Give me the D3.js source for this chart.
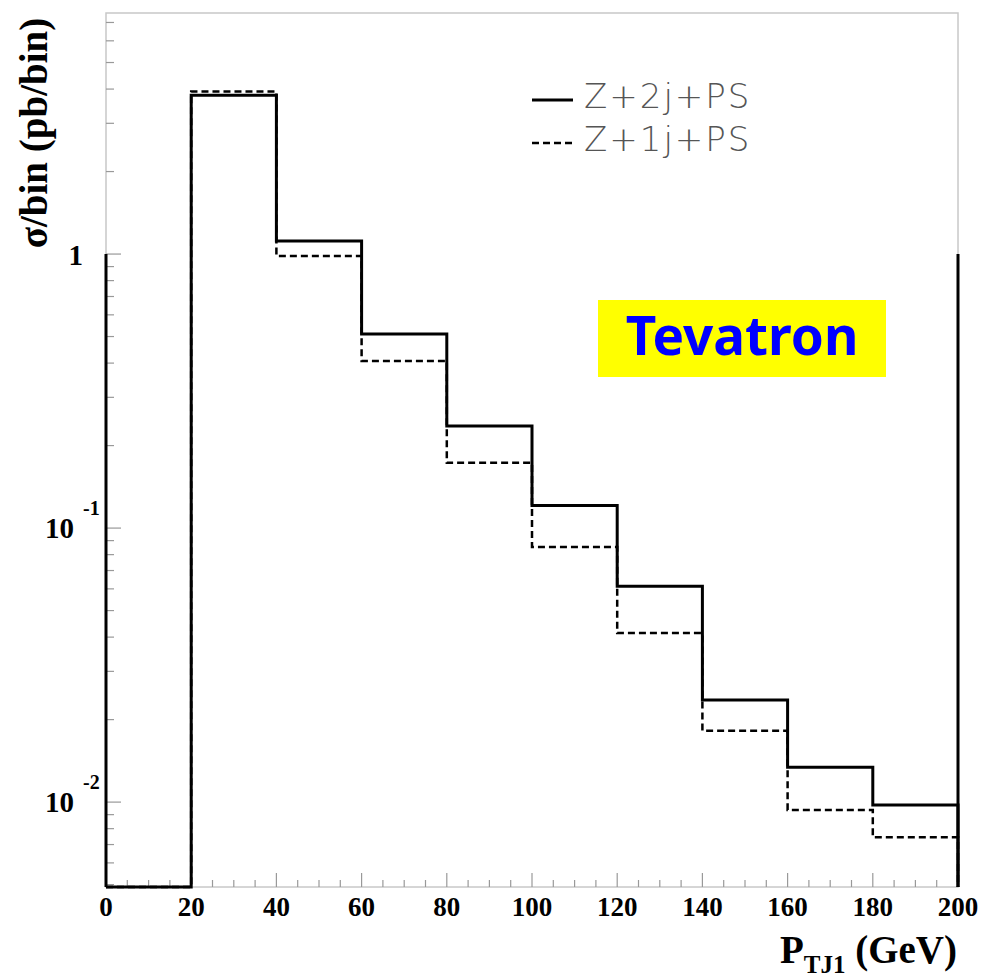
<!DOCTYPE html>
<html>
<head>
<meta charset="utf-8">
<script src="https://cdn.jsdelivr.net/npm/d3@7"></script>
<style>
  body { margin: 0; background: #fff; }
</style>
</head>
<body>
<div id="chart"></div>
<script>
// bin edges (GeV) and contents (pb/bin)
var binEdges = [0, 20, 40, 60, 80, 100, 120, 140, 160, 180, 200];
var z2j = [0, 3.80, 1.115, 0.511, 0.236, 0.121, 0.0614, 0.0236, 0.0134, 0.00975];
var z1j = [0, 3.92, 0.983, 0.407, 0.173, 0.0853, 0.0414, 0.0182, 0.00935, 0.00745];
var xTicks = [0, 20, 40, 60, 80, 100, 120, 140, 160, 180, 200];
var yDecades = [1, 0.1, 0.01];
var legendLabels = ["Z+2j+PS", "Z+1j+PS"];

var width = 981, height = 979;
var margin = { left: 106, right: 23, top: 13, bottom: 92 };

var svg = d3.select("#chart").append("svg")
   .attr("width", width)
   .attr("height", height);

var x = d3.scaleLinear()
   .domain([0, 200])
   .range([margin.left, width - margin.right]);

var y = d3.scaleLog()
   .domain([0.0049, 7.58])
   .range([height - margin.bottom, margin.top]);

var yMin = y.domain()[0];
var bottom = y.range()[0];

// frame (grey)
svg.append("rect")
   .attr("x", x(0))
   .attr("y", y.range()[1])
   .attr("width", x(200) - x(0))
   .attr("height", bottom - y.range()[1])
   .style("fill", "none")
   .style("stroke", "#c8c8c8")
   .style("stroke-width", 1.5);

// x ticks: major every 20, minor every 5
d3.range(0, 201, 5).forEach(function (t) {
   var major = t % 20 === 0;
   svg.append("line")
      .attr("x1", x(t)).attr("x2", x(t))
      .attr("y1", bottom).attr("y2", bottom - (major ? 14 : 7))
      .style("stroke", "#999")
      .style("stroke-width", 1.2);
});

// y ticks: decades and 2..9 minors
[0.001, 0.01, 0.1, 1].forEach(function (dec) {
   d3.range(1, 10).forEach(function (m) {
      var v = dec * m;
      if (v < yMin || v > y.domain()[1]) return;
      svg.append("line")
         .attr("x1", x(0)).attr("x2", x(0) + (m === 1 ? 15 : 8))
         .attr("y1", y(v)).attr("y2", y(v))
         .style("stroke", "#999")
         .style("stroke-width", 1.2);
   });
});

// step path for a histogram
function stepPath(vals) {
   var pts = [];
   vals.forEach(function (v, i) {
      var yy = v > yMin ? y(v) : bottom;
      pts.push([x(binEdges[i]), yy]);
      pts.push([x(binEdges[i + 1]), yy]);
   });
   pts.push([x(binEdges[binEdges.length - 1]), bottom]);
   return d3.line()(pts);
}

// black edge lines from 1 down to the bottom at both ends
[0, 200].forEach(function (t) {
   svg.append("line")
      .attr("x1", x(t)).attr("x2", x(t))
      .attr("y1", y(1)).attr("y2", bottom)
      .style("stroke", "#000")
      .style("stroke-width", 3);
});

svg.append("path")
   .attr("d", stepPath(z2j))
   .style("fill", "none")
   .style("stroke", "#000")
   .style("stroke-width", 3);

svg.append("path")
   .attr("d", stepPath(z1j))
   .style("fill", "none")
   .style("stroke", "#000")
   .style("stroke-width", 2.5)
   .style("stroke-dasharray", "7,4");

// x tick labels
var serif = "'Liberation Serif', 'Times New Roman', serif";
svg.selectAll(".xlab")
   .data(xTicks)
   .enter().append("text")
   .attr("x", function (d) { return x(d); })
   .attr("y", bottom + 29)
   .attr("text-anchor", "middle")
   .style("font-family", serif)
   .style("font-weight", "bold")
   .style("font-size", "27px")
   .text(function (d) { return d; });

// y tick labels
yDecades.forEach(function (d) {
   if (d === 1) {
      svg.append("text")
         .attr("x", 83).attr("y", y(d) + 11)
         .attr("text-anchor", "end")
         .style("font-family", serif)
         .style("font-weight", "bold")
         .style("font-size", "29px")
         .text("1");
   } else {
      svg.append("text")
         .attr("x", 74).attr("y", y(d) + 10)
         .attr("text-anchor", "end")
         .style("font-family", serif)
         .style("font-weight", "bold")
         .style("font-size", "29px")
         .text("10");
      svg.append("text")
         .attr("x", 83).attr("y", y(d) - 13)
         .style("font-family", serif)
         .style("font-weight", "bold")
         .style("font-size", "20px")
         .text(Math.round(Math.log10(d)));
   }
});

// y axis title
svg.append("text")
   .attr("transform", "translate(47," + 133 + ") rotate(-90)")
   .attr("text-anchor", "middle")
   .style("font-family", serif)
   .style("font-weight", "bold")
   .style("font-size", "39px")
   .text("σ/bin (pb/bin)");

// x axis title
var xt = svg.append("text")
   .attr("x", x(200) - 1)
   .attr("y", 963)
   .attr("text-anchor", "end")
   .style("font-family", serif)
   .style("font-weight", "bold")
   .style("font-size", "39px");
xt.append("tspan").text("P");
xt.append("tspan").attr("dy", 10).style("font-size", "25px").text("TJ1");
xt.append("tspan").attr("dy", -10).text(" (GeV)");

// legend
var legendDash = [null, "7,4"];
legendLabels.forEach(function (lab, i) {
   var ly = 100 + i * 43;
   svg.append("line")
      .attr("x1", 532).attr("x2", 573)
      .attr("y1", ly).attr("y2", ly)
      .style("stroke", "#000")
      .style("stroke-width", i === 0 ? 3 : 2.5)
      .style("stroke-dasharray", legendDash[i]);
   svg.append("text")
      .attr("x", 584).attr("y", ly + 8)
      .style("font-family", "'DejaVu Sans', sans-serif")
      .style("font-weight", "300")
      .style("font-size", "34px")
      .style("letter-spacing", "2px")
      .style("fill", "#555")
      .text(lab);
});

// Tevatron label
svg.append("rect")
   .attr("x", 598).attr("y", 300)
   .attr("width", 288).attr("height", 77)
   .style("fill", "#ffff00");
svg.append("text")
   .attr("x", 742).attr("y", 355)
   .attr("text-anchor", "middle")
   .style("font-family", "'Comic Sans MS', 'Noto Sans', sans-serif")
   .style("font-weight", "bold")
   .style("font-size", "53px")
   .style("fill", "#0000ff")
   .text("Tevatron");
</script>
</body>
</html>
